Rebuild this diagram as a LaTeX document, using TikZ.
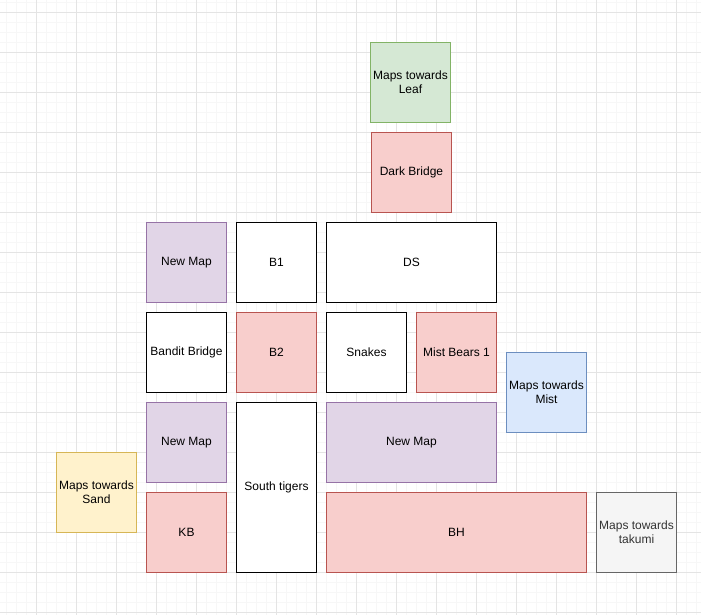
\documentclass[tikz,border=0pt]{standalone}
\usepackage{fontspec}
\setmainfont{Liberation Sans}
\definecolor{gmin}{HTML}{F7F7F7}
\definecolor{gmaj}{HTML}{E4E4E4}
\definecolor{grnF}{HTML}{D5E8D4}\definecolor{grnD}{HTML}{82B366}
\definecolor{redF}{HTML}{F8CECC}\definecolor{redD}{HTML}{B85450}
\definecolor{purF}{HTML}{E1D5E7}\definecolor{purD}{HTML}{9673A6}
\definecolor{yelF}{HTML}{FFF2CC}\definecolor{yelD}{HTML}{D6B656}
\definecolor{bluF}{HTML}{DAE8FC}\definecolor{bluD}{HTML}{6C8EBF}
\definecolor{gryF}{HTML}{F5F5F5}\definecolor{gryD}{HTML}{666666}\definecolor{gryT}{HTML}{333333}
\begin{document}
\begin{tikzpicture}[x=1pt,y=-1pt,
  box/.style={draw, line width=1pt, inner sep=0pt, outer sep=0pt, minimum width=80pt, minimum height=80pt, align=center, font=\fontsize{12}{14}\selectfont},
  plain/.style={box, draw=black, fill=white},
  grn/.style={box, draw=grnD, fill=grnF},
  red/.style={box, draw=redD, fill=redF},
  pur/.style={box, draw=purD, fill=purF},
  yel/.style={box, draw=yelD, fill=yelF},
  blu/.style={box, draw=bluD, fill=bluF},
  gry/.style={box, draw=gryD, fill=gryF, text=gryT}]
\useasboundingbox[fill=white] (0,0) rectangle (701,615);
% grid
\foreach \x in {6,16,...,700} \draw[gmin, line width=1pt] (\x,0) -- (\x,615);
\foreach \y in {2.3,12.3,...,615} \draw[gmin, line width=1pt] (0,\y) -- (701,\y);
\foreach \x in {36,76,...,700} \draw[gmaj, line width=1pt] (\x,0) -- (\x,615);
\foreach \y in {12.3,52.3,...,615} \draw[gmaj, line width=1pt] (0,\y) -- (701,\y);
% boxes
\node[grn] (leaf) at (410.5,82.5) {Maps towards\\Leaf};
\node[red] (dark) at (411.5,172.5) {Dark Bridge};
\node[pur] (nm1) at (186.5,262.5) {New Map};
\node[plain] (b1) at (276.5,262.5) {B1};
\node[plain, minimum width=170pt] (ds) at (411.5,262.5) {DS};
\node[plain] (bandit) at (186.5,352.5) {Bandit Bridge};
\node[red] (b2) at (276.5,352.5) {B2};
\node[plain] (snakes) at (366.5,352.5) {Snakes};
\node[red] (mb1) at (456.5,352.5) {Mist Bears 1};
\node[blu] (mist) at (546.5,392.5) {Maps towards\\Mist};
\node[pur] (nm2) at (186.5,442.5) {New Map};
\node[plain, minimum height=170pt] (south) at (276.5,487.5) {South tigers};
\node[pur, minimum width=170pt] (nm3) at (411.5,442.5) {New Map};
\node[yel] (sand) at (96.5,492.5) {Maps towards\\Sand};
\node[red] (kb) at (186.5,532.5) {KB};
\node[red, minimum width=260pt] (bh) at (456.5,532.5) {BH};
\node[gry] (takumi) at (636.5,532.5) {Maps towards\\takumi};
\end{tikzpicture}
\end{document}
